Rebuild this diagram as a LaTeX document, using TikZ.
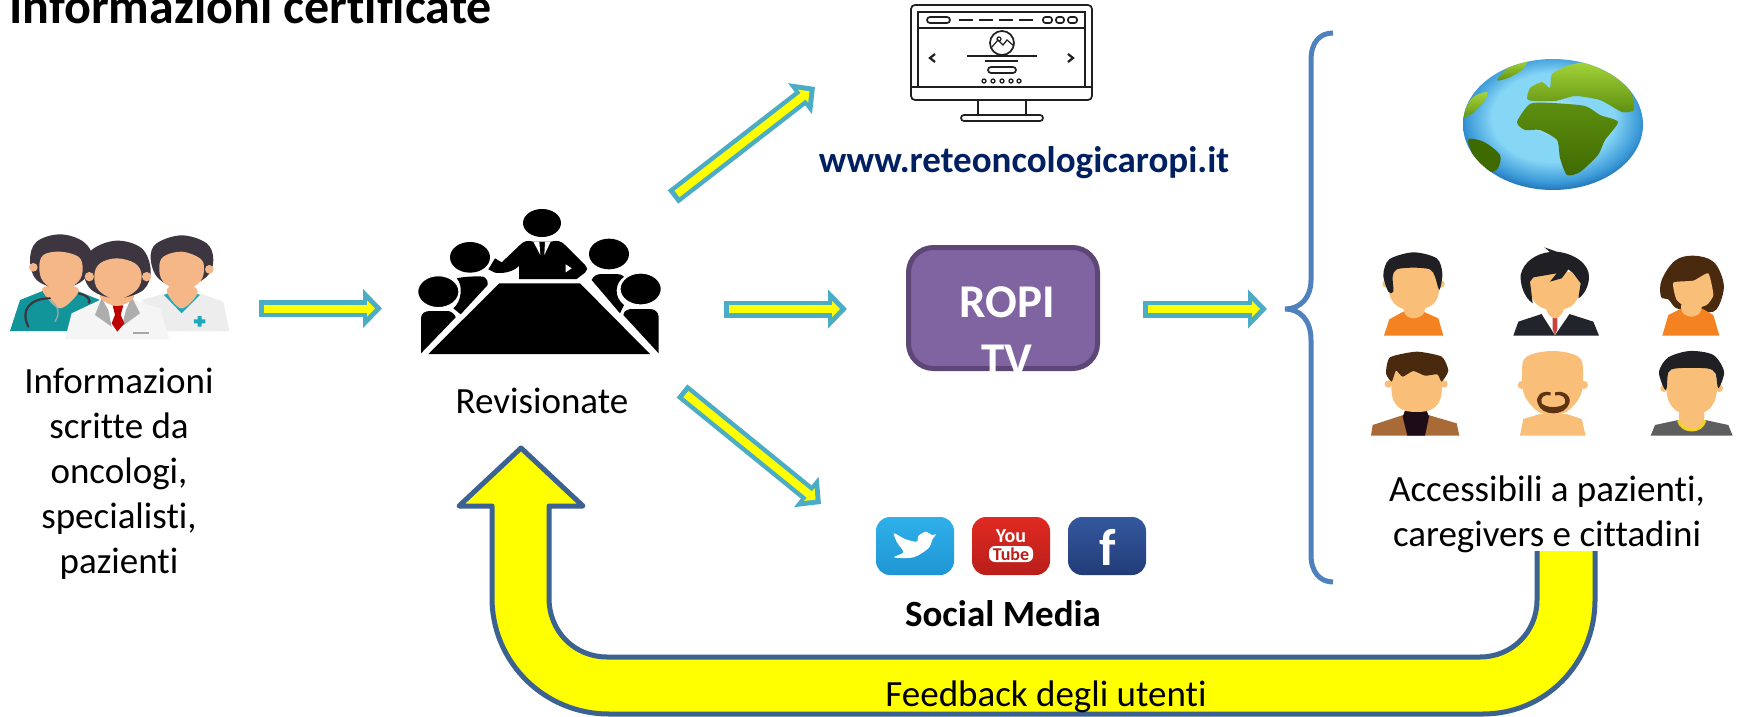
\documentclass[tikz,border=0pt]{standalone}
\usepackage{fontspec}
\setmainfont[Ligatures=NoCommon]{Carlito}
\usetikzlibrary{arrows.meta,calc,shapes.geometric}
\definecolor{flowteal}{HTML}{4BACC6}
\definecolor{pureyellow}{RGB}{255,255,0}
\definecolor{fbblue}{HTML}{3C6291}
\definecolor{bracecol}{HTML}{4F81BD}
\definecolor{ropifill}{HTML}{8064A2}
\definecolor{ropiline}{HTML}{5C4776}
\definecolor{navy}{HTML}{002060}
\definecolor{skin}{HTML}{F9BE77}
\definecolor{docskin}{HTML}{F5B787}
\definecolor{dochair}{HTML}{3D3640}
\definecolor{docteal}{HTML}{12959A}
\definecolor{doccross}{HTML}{1FA9BE}
\definecolor{hairblack}{HTML}{1F1F24}
\definecolor{hairbrown}{HTML}{4A2A0E}
\definecolor{beard}{HTML}{5E3314}
\definecolor{shirtorange}{HTML}{F58220}
\definecolor{suit}{HTML}{22242C}
\definecolor{tiered}{HTML}{C8453F}
\definecolor{coat}{HTML}{A86B38}
\definecolor{turtle}{HTML}{1E0C16}
\definecolor{graytee}{HTML}{5E5E60}
\definecolor{collar}{HTML}{F0D420}
\definecolor{twa}{HTML}{2FB0EA}\definecolor{twb}{HTML}{1F96D4}
\definecolor{yta}{HTML}{E02A22}\definecolor{ytb}{HTML}{B81E1A}
\definecolor{fba}{HTML}{34589E}\definecolor{fbb}{HTML}{223C78}
\definecolor{ga}{HTML}{A6D63A}\definecolor{gb}{HTML}{3F6A00}\definecolor{gc}{HTML}{5E8F10}
\definecolor{sea1}{HTML}{CDEEFA}\definecolor{sea2}{HTML}{86D6F6}\definecolor{sea3}{HTML}{3C9AD8}\definecolor{sea4}{HTML}{0F5CA6}
\pgfdeclareradialshading{globeshade}{\pgfpoint{0bp}{4bp}}{color(0bp)=(sea1);color(8bp)=(sea2);color(17bp)=(sea2);color(24bp)=(sea3);color(29bp)=(sea4);color(50bp)=(sea4)}
\tikzset{
  flowouter/.style={draw=flowteal,line width=17pt,-{Triangle[length=19pt,width=38pt,fill=flowteal]}},
  flowinner/.style={draw=pureyellow,line width=8pt,-{Triangle[length=8pt,width=16pt,fill=pureyellow]}},
  textlabel/.style={font=\fontsize{37}{45}\selectfont,align=center,inner sep=0pt},
  icon/.style={line width=1.7pt,draw=black!88},
  zoomthree/.style={x=0.33333pt,y=-0.33333pt},
}
\newcommand\flow[2]{%
  \draw[flowouter] (#1) -- (#2);
  \draw[flowinner] ($(#1)!5pt!(#2)$) -- ($(#2)!7pt!(#1)$);}
\newcommand\blob[2]{\fill[#1] plot[smooth cycle,tension=0.6] coordinates {#2};}
\begin{document}
\begin{tikzpicture}[x=1pt,y=-1pt]
\useasboundingbox (0,0) rectangle (1741,717);
\fill[white] (0,0) rectangle (1741,717);

% title
\node[anchor=base west,inner sep=0pt,font=\fontsize{50}{56}\selectfont\bfseries] (title) at (9,24) {Informazioni certificate};

% feedback arrow
\draw[fill=pureyellow,draw=fbblue,line width=5pt,line join=round]
  (1537,551) -- (1537,600) .. controls (1537,632) and (1512,657) .. (1480,657)
  -- (607,657) .. controls (575,657) and (549,632) .. (549,598)
  -- (549,506) -- (583,506) -- (521,448) -- (459,506) -- (492,506)
  -- (492,598) .. controls (492,662) and (544,714) .. (609,714)
  -- (1483,714) .. controls (1545,714) and (1595,664) .. (1595,600) -- (1595,551);
\node[textlabel,anchor=base] (feedback) at (1046,706) {Feedback degli utenti};

% doctors icon
\begin{scope}[shift={(0,180)},zoomthree]
  % left doctor
  \fill[docteal] (30,453) -- (60,360) -- (135,330) -- (225,330) -- (300,360) -- (300,453) -- cycle;
  \blob{docskin}{(135,320) (225,320) (230,345) (180,385) (135,345)}
  \draw[dochair,line width=2.2pt,line cap=round] (150,355) .. controls (90,355) and (60,390) .. (85,440);
  \draw[dochair,line width=2.2pt] (235,340) .. controls (265,345) and (275,365) .. (265,370);
  \draw[black!35,line width=1.2pt] (150,360) .. controls (185,385) and (175,410) .. (165,425);
  \blob{dochair}{(90,240) (110,185) (180,163) (250,185) (278,235) (250,300) (180,325) (110,300)}
  \blob{docskin}{(118,262) (130,225) (180,215) (235,230) (248,265) (235,305) (180,335) (130,305)}
  \fill[docskin] (100,262) circle (13);
  % right doctor
  \fill[black!7] (425,360) -- (495,340) -- (600,340) -- (670,365) -- (688,453) -- (500,453) -- cycle;
  \fill[doccross] (492,345) -- (545,400) -- (600,345) -- (588,340) -- (545,385) -- (505,340) -- cycle;
  \blob{docskin}{(510,320) (580,320) (590,345) (545,385) (505,345)}
  \blob{dochair}{(452,235) (470,190) (545,166) (620,190) (640,240) (620,290) (545,325) (475,295)}
  \blob{docskin}{(478,265) (490,230) (545,215) (600,235) (612,265) (600,305) (545,335) (490,305)}
  \fill[docskin] (628,268) circle (13);
  \fill[doccross] (582,418) rectangle (616,430) (593,408) rectangle (605,440);
  % centre doctor
  \fill[black!4] (195,478) -- (215,400) -- (300,360) -- (400,360) -- (480,385) -- (508,478) -- cycle;
  \fill[white] (305,360) -- (395,360) -- (372,440) -- (335,440) -- cycle;
  \fill[black!32] (305,355) -- (285,405) -- (335,440) -- (325,390) -- cycle;
  \fill[black!32] (395,350) -- (420,400) -- (365,440) -- (378,390) -- cycle;
  \fill[red!75!black] (338,376) -- (370,376) -- (362,405) -- (373,430) -- (352,455) -- (335,430) -- (345,405) -- cycle;
  \fill[black!35] (400,456) rectangle (448,463);
  \blob{docskin}{(310,335) (390,335) (398,358) (350,378) (305,358)}
  \blob{dochair}{(250,270) (275,210) (350,182) (425,205) (452,270) (430,330) (350,355) (275,330)}
  \blob{docskin}{(283,285) (300,250) (350,235) (405,250) (425,285) (410,330) (350,358) (295,330)}
  \fill[docskin] (268,290) circle (14) (440,290) circle (14);
\end{scope}
\node[inner sep=0pt,minimum width=220pt,minimum height=107pt] (doctors) at (120,286) {};

% meeting icon
\begin{scope}[shift={(420,230)},zoomthree]
  \fill[black] (238,160) -- (480,160) -- (690,372) -- (25,372) -- cycle;
  % presenter
  \fill[black] (366,-21) ellipse (57 and 42);
  \fill[black] (297,147) -- (297,108) .. controls (280,125) and (250,132) .. (225,128) -- (205,118) -- (225,85) -- (245,97) -- (300,45) .. controls (310,33) and (325,30) .. (340,35) -- (392,35) .. controls (410,30) and (425,33) .. (435,45) -- (495,105) .. controls (505,115) and (500,125) .. (495,128) -- (470,147) -- cycle;
  \fill[white] (340,35) -- (358,35) -- (361,75) -- cycle (392,35) -- (375,35) -- (373,75) -- cycle;
  \fill[white] (437,103) -- (455,115) -- (437,127) -- cycle;
  % side bodies
  \fill[black] (110,145) .. controls (130,140) and (170,138) .. (190,140) .. controls (200,145) and (205,155) .. (203,165) -- (122,253) -- (100,235) .. controls (125,215) and (130,165) .. (110,145) -- cycle;
  \fill[black] (3,370) -- (3,265) .. controls (3,250) and (15,243) .. (30,243) -- (85,243) .. controls (97,245) and (105,255) .. (107,262) -- cycle;
  \fill[black] (515,150) .. controls (520,138) and (530,132) .. (545,132) -- (590,132) .. controls (600,132) and (607,135) .. (612,140) .. controls (585,160) and (580,200) .. (612,225) -- (600,250) -- cycle;
  \fill[black] (610,255) .. controls (612,240) and (625,237) .. (640,237) -- (690,237) .. controls (705,237) and (715,247) .. (716,260) -- (716,370) -- cycle;
  % heads
  \fill[black] (150,82) ellipse (60 and 46);
  \draw[white,line width=1.2pt,fill=black] (55,185) ellipse (62 and 48);
  \fill[black] (567,72) ellipse (60 and 46);
  \draw[white,line width=1.2pt,fill=black] (662,177) ellipse (62 and 48);
\end{scope}
\node[inner sep=0pt,minimum width=240pt,minimum height=150pt] (meeting) at (540,280) {};

% website monitor
\begin{scope}[icon]
  \draw[rounded corners=4pt] (911,5) rectangle (1092,100);
  \draw (918,12) rectangle (1085,87);
  \draw (918,28) -- (1085,28) (911,87) -- (1092,87);
  \draw[rounded corners=3pt] (927,17) rectangle (950,23);
  \draw (959,20) -- (973,20) (979,20) -- (993,20) (999,20) -- (1013,20) (1019,20) -- (1033,20);
  \draw[rounded corners=2.5pt] (1043,17) rectangle (1052,23) (1056,17) rectangle (1064,23) (1068,17) rectangle (1077,23);
  \draw (1002,43) circle (12);
  \draw[line width=1.2pt] (991,48) -- (998,40) -- (1003,45) -- (1007,40) -- (1014,46);
  \draw[line width=1.2pt] (999,39) circle (2);
  \draw (967,56) -- (1037,56) (985,61) -- (1018,61);
  \draw[rounded corners=3pt] (988,67) rectangle (1016,73);
  \foreach \dx in {984,993,1002,1011,1019} \draw[line width=1.3pt] (\dx,81) circle (2);
  \draw[line width=2.2pt] (935,54) -- (930,58) -- (935,62) (1068,54) -- (1073,58) -- (1068,62);
  \draw (978,100) -- (978,115) (1026,100) -- (1026,115);
  \draw[rounded corners=3pt] (961,115) rectangle (1043,121);
\end{scope}
\node[inner sep=0pt,minimum width=181pt,minimum height=116pt] (monitor) at (1002,63) {};
\node[anchor=base,inner sep=0pt,text=navy,font=\fontsize{37}{44}\selectfont\bfseries] (url) at (1024,172) {www.reteoncologicaropi.it};

% ROPI TV
\node[draw=ropiline,fill=ropifill,line width=5pt,rounded corners=25pt,minimum width=189pt,minimum height=121pt,inner sep=0pt] (ropi) at (1003,308) {};
\node[anchor=base,inner sep=0pt,text=white,font=\fontsize{47}{58}\selectfont\bfseries] (ropit) at (1007,317) {ROPI};
\node[anchor=base,inner sep=0pt,text=white,font=\fontsize{47}{58}\selectfont\bfseries] (ropitv) at (1007,375) {TV};

% social icons
\node[rounded corners=14pt,minimum width=78pt,minimum height=58pt,inner sep=0pt,top color=twa,bottom color=twb] (tw) at (915,546) {};
\begin{scope}[shift={(770,440)},zoomthree]
  \fill[white] plot[smooth cycle,tension=0.5] coordinates {(372,352) (430,352) (475,325) (488,297) (498,283) (485,285) (468,275) (445,288) (440,305) (405,297) (372,280) (380,305) (392,322) (400,338)};
\end{scope}
\node[rounded corners=14pt,minimum width=78pt,minimum height=58pt,inner sep=0pt,top color=yta,bottom color=ytb] (yt) at (1011,546) {};
\node[inner sep=0pt,text=white,font=\fontsize{20}{20}\selectfont\bfseries] (ytyou) at (1011,536) {You};
\node[fill=white,rounded corners=6pt,minimum width=44pt,minimum height=16pt,inner sep=0pt,text=ytb,font=\fontsize{18}{18}\selectfont\bfseries] (yttube) at (1011,554) {Tube};
\node[rounded corners=14pt,minimum width=78pt,minimum height=58pt,inner sep=0pt,top color=fba,bottom color=fbb] (fb) at (1107,546) {};
\node[inner sep=0pt,text=white,font=\fontsize{52}{52}\selectfont\bfseries] (fbf) at (1108,547) {f};
\node[anchor=base,inner sep=0pt,font=\fontsize{37}{44}\selectfont\bfseries] (social) at (1003,626) {Social Media};

% labels
\node[textlabel] (writers) at (119,474) {Informazioni\\scritte da\\oncologi,\\specialisti,\\pazienti};
\node[textlabel] (rev) at (542,401) {Revisionate};
\node[textlabel,anchor=north] (access) at (1547,476) {Accessibili a pazienti,\\caregivers e cittadini};

% brace
\draw[bracecol,line width=5pt] (1333,33) .. controls (1320,33) and (1311,42) .. (1311,60) -- (1311,280)
  .. controls (1311,298) and (1300,309) .. (1285,309) .. controls (1300,309) and (1311,320) .. (1311,340)
  -- (1311,555) .. controls (1311,572) and (1320,582) .. (1333,582);

% globe
\shade[shading=globeshade] (1553,124.5) ellipse (90 and 65.5);
\begin{scope}
  \clip (1553,124.5) ellipse (90 and 65.5);
  \shade[top color=gc,bottom color=gb]
    plot[smooth cycle,tension=0.4] coordinates {(1517,122) (1530,104) (1552,103) (1585,106) (1600,115) (1618,122) (1605,140) (1598,155) (1580,172) (1567,175) (1560,158) (1557,140) (1540,130) (1525,130)};
  \shade[top color=ga,bottom color=gc]
    plot[smooth cycle,tension=0.35] coordinates {(1528,100) (1530,88) (1542,82) (1550,88) (1552,74) (1570,65) (1600,60) (1618,72) (1632,95) (1634,110) (1622,112) (1600,100) (1575,96) (1555,101)};
  \shade[top color=ga,bottom color=gc]
    plot[smooth cycle,tension=0.5] coordinates {(1497,80) (1510,66) (1527,60) (1522,70) (1508,78)};
  \shade[top color=ga,bottom color=gc]
    plot[smooth cycle,tension=0.5] coordinates {(1462,118) (1472,98) (1487,92) (1485,100) (1474,112)};
  \fill[gb]
    plot[smooth cycle,tension=0.5] coordinates {(1468,140) (1484,142) (1500,155) (1498,168) (1490,172) (1478,165)};
\end{scope}
\node[inner sep=0pt,minimum width=180pt,minimum height=131pt] (globe) at (1553,124.5) {};

% people
\begin{scope}[shift={(1360,240)},zoomthree]
  % person 1
  \fill[shirtorange] (72,287) -- (88,238) -- (130,215) -- (190,215) -- (235,235) -- (250,287) -- cycle;
  \blob{skin}{(135,190) (190,190) (190,222) (160,235) (135,222)}
  \fill[skin] (78,132) circle (11) (243,132) circle (11);
  \blob{skin}{(90,120) (105,85) (160,75) (215,85) (235,120) (232,175) (195,205) (125,205) (90,170)}
  \fill[hairblack] plot[smooth cycle,tension=0.5] coordinates {(85,155) (70,105) (88,58) (160,37) (230,55) (247,100) (238,150) (225,110) (210,88) (160,83) (110,88) (98,110) (100,155)};
  % person 2
  \fill[suit] (460,287) -- (475,245) -- (545,222) -- (628,222) -- (700,245) -- (717,287) -- cycle;
  \fill[white] (545,222) -- (585,285) -- (628,222) -- (600,205) -- (565,205) -- cycle;
  \fill[tiered] (578,232) -- (592,232) -- (592,268) -- (585,285) -- (578,268) -- cycle;
  \blob{skin}{(560,190) (610,190) (605,222) (585,235) (565,222)}
  \blob{skin}{(512,110) (585,90) (658,110) (655,170) (620,205) (550,205) (515,170)}
  \fill[hairblack] (553,22) -- (590,35) .. controls (640,40) and (690,70) .. (687,115) .. controls (685,140) and (672,165) .. (655,175) -- (662,130) -- (640,100) -- (625,88) -- (605,115) -- (570,125) -- (590,100) -- (520,112) -- (510,125) -- (518,190) .. controls (490,170) and (480,130) .. (482,105) .. controls (490,65) and (530,40) .. (570,36) -- cycle;
  % person 3
  \blob{hairbrown}{(905,120) (945,62) (1000,47) (1060,65) (1090,125) (1085,175) (1060,215) (1000,210) (950,205) (925,178) (903,170)}
  \fill[shirtorange] (907,287) -- (925,225) -- (965,205) -- (1025,205) -- (1060,225) -- (1078,287) -- cycle;
  \blob{skin}{(968,190) (1020,190) (1020,218) (995,230) (968,218)}
  \fill[skin] plot[smooth cycle,tension=0.3] coordinates {(940,128) (1000,122) (1045,100) (1060,165) (1040,195) (990,208) (950,180)};
  % person 4
  \fill[coat] (33,587) -- (38,555) -- (130,525) -- (205,525) -- (290,550) -- (298,587) -- cycle;
  \fill[turtle] (135,512) -- (200,512) -- (207,530) -- (195,587) -- (142,587) -- (128,530) -- cycle;
  \fill[skin] (85,432) circle (11) (252,432) circle (11);
  \blob{skin}{(95,420) (110,395) (170,385) (232,395) (245,420) (240,480) (205,512) (135,512) (100,480)}
  \fill[hairbrown] plot[smooth cycle,tension=0.35] coordinates {(78,400) (90,352) (170,335) (245,350) (265,392) (245,425) (232,403) (195,407) (160,393) (128,410) (108,392) (95,425)};
  % person 5
  \fill[skin] (480,587) -- (490,537) -- (540,522) -- (620,522) -- (665,537) -- (677,587) -- cycle;
  \fill[skin] (485,435) circle (12) (672,435) circle (12);
  \blob{skin}{(486,395) (500,350) (578,333) (655,350) (669,395) (662,465) (620,515) (578,522) (535,515) (493,465)}
  \fill[beard] (572,457) .. controls (545,450) and (525,468) .. (533,490) .. controls (545,530) and (615,530) .. (628,490) .. controls (635,468) and (612,450) .. (585,457) -- (585,466) .. controls (605,462) and (620,472) .. (615,490) .. controls (600,505) and (560,505) .. (545,490) .. controls (540,472) and (552,462) .. (572,466) -- cycle;
  % person 6
  \fill[graytee] (872,587) -- (885,555) -- (955,540) -- (1035,540) -- (1105,555) -- (1118,587) -- cycle;
  \blob{skin}{(965,505) (1025,505) (1030,545) (995,572) (960,545)}
  \draw[collar,line width=2.8pt] (955,541) .. controls (965,580) and (1025,580) .. (1035,541);
  \fill[skin] (912,445) circle (11) (1078,445) circle (11);
  \blob{skin}{(920,420) (940,385) (995,378) (1050,385) (1070,420) (1065,480) (1030,518) (960,518) (925,480)}
  \fill[hairblack] plot[smooth cycle,tension=0.5] coordinates {(912,445) (897,395) (925,352) (990,333) (1060,345) (1092,395) (1075,445) (1066,400) (1040,385) (950,385) (925,398) (920,445)};
\end{scope}
\node[inner sep=0pt,minimum width=360pt,minimum height=190pt] (people) at (1540,344) {};

% connectors
\coordinate (a1s) at (259,308.5);
\coordinate (a1e) at (382,308.5);
\coordinate (a2s) at (724,309);
\coordinate (a2e) at (847,309);
\coordinate (a3s) at (1143,309);
\coordinate (a3e) at (1267,309);
\coordinate (a4s) at (673,197);
\coordinate (a4e) at (815,87);
\coordinate (a5s) at (682,391);
\coordinate (a5e) at (821,504);
\flow{a1s}{a1e}
\flow{a2s}{a2e}
\flow{a3s}{a3e}
\flow{a4s}{a4e}
\flow{a5s}{a5e}
\end{tikzpicture}
\end{document}
